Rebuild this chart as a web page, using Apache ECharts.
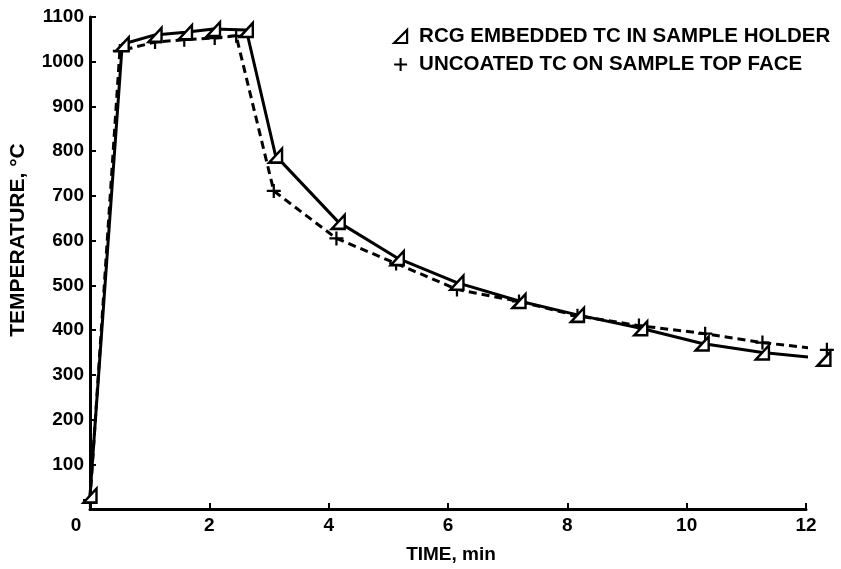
<!DOCTYPE html>
<html>
<head>
<meta charset="utf-8">
<script src="https://cdn.jsdelivr.net/npm/echarts@6/dist/echarts.min.js"></script>
<style>
html,body{margin:0;padding:0;background:#fff;}
#chart{width:841px;height:569px;}
</style>
</head>
<body>
<div id="chart"></div>
<script>
// Data
var seriesNames = ['RCG EMBEDDED TC IN SAMPLE HOLDER', 'UNCOATED TC ON SAMPLE TOP FACE'];
var timeRCG = [0.0, 0.54, 1.09, 1.60, 2.07, 2.62, 3.11, 4.16, 5.15, 6.15, 7.19, 8.17, 9.23, 10.26, 11.27, 12.30];
var tempRCG = [30, 1039, 1060, 1066, 1073, 1071, 790, 642, 561, 506, 465, 434, 404, 370, 350, 336];
var timeUnc = [0.0, 0.50, 1.09, 1.58, 2.09, 2.45, 3.08, 4.13, 5.13, 6.15, 7.19, 8.17, 9.20, 10.31, 11.27, 12.35];
var tempUnc = [20, 1024, 1044, 1049, 1053, 1058, 711, 605, 549, 491, 464, 432, 410, 392, 372, 356];
var xTicks = [0, 2, 4, 6, 8, 10, 12];
var yTicks = [0, 100, 200, 300, 400, 500, 600, 700, 800, 900, 1000, 1100];
var xAxisName = 'TIME, min';
var yAxisName = 'TEMPERATURE, °C';

function pairs(xs, ys) { return xs.map(function (x, i) { return [x, ys[i]]; }); }

var triPath = 'path://M0,10 L10,0 L10,10 Z';
var plusPath = 'path://M4.2,0 L5.8,0 L5.8,4.2 L10,4.2 L10,5.8 L5.8,5.8 L5.8,10 L4.2,10 L4.2,5.8 L0,5.8 L0,4.2 L4.2,4.2 Z';
var FONT = '"Liberation Sans", Arial, Helvetica, sans-serif';

var chart = echarts.init(document.getElementById('chart'), null, {renderer: 'canvas'});
chart.setOption({
  backgroundColor: '#ffffff',
  animation: false,
  textStyle: {fontFamily: FONT, color: '#000'},
  grid: {left: 90, right: 35, top: 17, bottom: 60, containLabel: false, outerBoundsMode: 'none'},
  legend: {
    orient: 'vertical',
    left: 393,
    top: 26,
    padding: 0,
    itemWidth: 13,
    itemHeight: 14,
    itemGap: 7,
    textStyle: {fontFamily: FONT, fontSize: 20.5, fontWeight: 'bold', color: '#000', padding: [0, 0, 0, 7]},
    data: [
      {name: seriesNames[0], icon: triPath, itemStyle: {color: '#fff', borderColor: '#000', borderWidth: 2.2}},
      {name: seriesNames[1], icon: plusPath, itemStyle: {color: '#000', borderWidth: 0}}
    ]
  },
  xAxis: {
    type: 'value',
    min: 0, max: 12, interval: 2,
    name: xAxisName,
    nameLocation: 'middle',
    nameGap: 36,
    nameTextStyle: {fontFamily: FONT, fontSize: 19, fontWeight: 'bold', color: '#000', padding: [0, 0, 0, 6]},
    axisLine: {lineStyle: {color: '#000', width: 3}},
    axisTick: {inside: true, length: 6, lineStyle: {color: '#000', width: 2}},
    splitLine: {show: false},
    axisLabel: {
      margin: 7, fontFamily: FONT, fontSize: 19, fontWeight: 'bold', color: '#000',
      formatter: function (v) { return v === 0 ? '{z|0}' : String(v); },
      rich: {z: {fontFamily: FONT, fontSize: 19, fontWeight: 'bold', color: '#000', padding: [0, 28, 0, 0]}}
    }
  },
  yAxis: {
    type: 'value',
    min: 0, max: 1100, interval: 100,
    name: yAxisName,
    nameLocation: 'middle',
    nameRotate: 90,
    nameGap: 61,
    nameTextStyle: {fontFamily: FONT, fontSize: 21, fontWeight: 'bold', color: '#000', padding: [0, 0, 0, 46]},
    axisLine: {show: true, lineStyle: {color: '#000', width: 3}},
    axisTick: {show: true, inside: true, length: 6, lineStyle: {color: '#000', width: 2}},
    splitLine: {show: false},
    axisLabel: {
      margin: 6, fontFamily: FONT, fontSize: 19, fontWeight: 'bold', color: '#000',
      formatter: function (v) { return v === 0 ? '' : String(v); }
    }
  },
  series: [
    {
      name: seriesNames[1],
      type: 'line',
      clip: false,
      data: pairs(timeUnc, tempUnc),
      symbol: plusPath,
      symbolSize: 14,
      itemStyle: {color: '#000', borderWidth: 0},
      lineStyle: {color: '#000', width: 3, type: [8, 5]},
      z: 2
    },
    {
      name: seriesNames[0],
      type: 'line',
      clip: false,
      data: pairs(timeRCG, tempRCG),
      symbol: triPath,
      symbolSize: [13, 14],
      itemStyle: {color: '#fff', borderColor: '#000', borderWidth: 2.5},
      lineStyle: {color: '#000', width: 3},
      z: 3
    }
  ]
});
</script>
</body>
</html>
